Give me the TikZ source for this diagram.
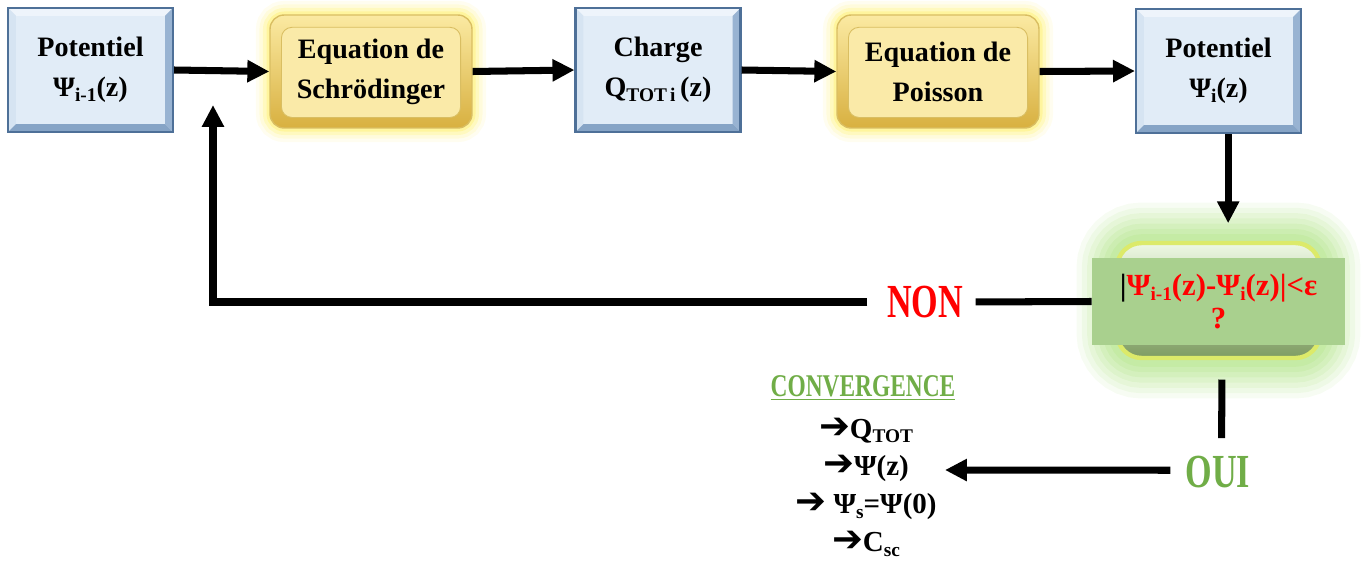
\documentclass[tikz,border=0pt]{standalone}
\usepackage{fontspec}
\setmainfont{Liberation Serif}
\newfontfamily\arrfont{DejaVu Sans}
\usetikzlibrary{arrows.meta,calc}
\definecolor{bvedge}{HTML}{4E7098}
\definecolor{bvtop}{HTML}{EEF4FB}
\definecolor{bvleft}{HTML}{D6E4F2}
\definecolor{bvright}{HTML}{98B3D2}
\definecolor{bvbot}{HTML}{86A4C6}
\definecolor{bvin}{HTML}{E1ECF7}
\definecolor{ytop}{HTML}{FBEAA2}
\definecolor{ybot}{HTML}{D8B040}
\definecolor{yin}{HTML}{FAEAA8}
\definecolor{yline}{HTML}{D9BE62}
\definecolor{yglow}{HTML}{FFF06A}
\definecolor{gglow}{HTML}{BDE89A}
\definecolor{grim}{HTML}{DCEA6A}
\definecolor{gtop}{HTML}{EEF8E4}
\definecolor{gbot}{HTML}{7E9C62}
\definecolor{gflat}{HTML}{A9D08E}
\definecolor{txtgreen}{HTML}{70AD47}
\definecolor{txtred}{HTML}{FF0000}
\newcommand\lowtext[1]{\raisebox{-0.35ex}{\fontsize{11}{11}\selectfont #1}}
\newcommand\bigarr{{\arrfont\bfseries\fontsize{21}{21}\selectfont ➔}}
\tikzset{
  bluebox/.style={draw=bvedge, line width=1.2pt, fill=bvin,
    minimum width=3.3cm, minimum height=2.48cm, align=center, inner sep=0pt,
    path picture={
      \fill[bvtop] (path picture bounding box.north west) -- (path picture bounding box.north east)
        -- ([xshift=-4.5pt,yshift=-4.5pt]path picture bounding box.north east)
        -- ([xshift=4.5pt,yshift=-4.5pt]path picture bounding box.north west) -- cycle;
      \fill[bvleft] (path picture bounding box.north west) -- (path picture bounding box.south west)
        -- ([xshift=4.5pt,yshift=4.5pt]path picture bounding box.south west)
        -- ([xshift=4.5pt,yshift=-4.5pt]path picture bounding box.north west) -- cycle;
      \fill[bvright] (path picture bounding box.north east) -- (path picture bounding box.south east)
        -- ([xshift=-4.5pt,yshift=4.5pt]path picture bounding box.south east)
        -- ([xshift=-4.5pt,yshift=-4.5pt]path picture bounding box.north east) -- cycle;
      \fill[bvbot] (path picture bounding box.south west) -- (path picture bounding box.south east)
        -- ([xshift=-4.5pt,yshift=4.5pt]path picture bounding box.south east)
        -- ([xshift=4.5pt,yshift=4.5pt]path picture bounding box.south west) -- cycle;
    }},
  yelbox/.style={draw=yline, line width=0.8pt, rounded corners=8pt,
    top color=ytop, bottom color=ybot,
    minimum width=4.04cm, minimum height=2.26cm, align=center, inner sep=0pt,
    preaction={draw=yglow, line width=16pt, opacity=0.10},
    preaction={draw=yglow, line width=12pt, opacity=0.15},
    preaction={draw=yglow, line width=8pt, opacity=0.25},
    preaction={draw=yglow, line width=4pt, opacity=0.4},
    path picture={
      \draw[fill=yin, draw=yline, line width=0.5pt, rounded corners=6pt]
        ([xshift=6.5pt,yshift=-7pt]path picture bounding box.north west)
        rectangle ([xshift=-6.5pt,yshift=6pt]path picture bounding box.south east);
    }},
  greenround/.style={draw=grim, line width=2.5pt, rounded corners=14pt,
    top color=gtop, bottom color=gbot,
    minimum width=4.06cm, minimum height=2.3cm, inner sep=0pt,
    preaction={draw=gglow, line width=46pt, opacity=0.12},
    preaction={draw=gglow, line width=40pt, opacity=0.15},
    preaction={draw=gglow, line width=34pt, opacity=0.18},
    preaction={draw=gglow, line width=28pt, opacity=0.22},
    preaction={draw=gglow, line width=22pt, opacity=0.28},
    preaction={draw=gglow, line width=16pt, opacity=0.35},
    preaction={draw=gglow, line width=10pt, opacity=0.5}},
  flatgreen/.style={fill=gflat, minimum width=5.06cm, minimum height=1.74cm,
    align=center, inner sep=0pt, text=txtred},
  line/.style={line width=4pt},
  arrow/.style={line width=4pt, -{Triangle[length=12.5pt,width=12pt]}},
}
\begin{document}
\begin{tikzpicture}[x=0.02cm,y=-0.02cm, font=\fontsize{16}{22.8}\selectfont\bfseries]
\useasboundingbox (0,0) rectangle (1362,561);

% top row
\node[bluebox] (b1) at (90.5,70) {Potentiel\\Ψ\lowtext{i-1}(z)};
\node[yelbox]  (b2) at (371,71.5) {Equation de\\Schrödinger};
\node[bluebox] (b3) at (658,70) {Charge\\Q\lowtext{TOT\,i}\,(z)};
\node[yelbox]  (b4) at (938,71.5) {Equation de\\Poisson};
\node[bluebox] (b5) at (1218.5,71) {Potentiel\\Ψ\lowtext{i}(z)};

% decision
\node[greenround] (decbg) at (1218.5,300.5) {};
\node[flatgreen, font=\fontsize{17.5}{19}\selectfont\bfseries] (dec) at (1218.5,301.5)
  {{\color{black}|}Ψ\lowtext{i-1}(z)-Ψ\lowtext{i}(z)|<ε\\?};

% labels
\node[inner sep=0pt, text=txtred] (non) at (925,302)
  {\scalebox{0.72}[1]{\fontsize{27}{30}\selectfont NON}};
\node[inner sep=0pt, text=txtgreen] (oui) at (1218,472)
  {\scalebox{0.72}[1]{\fontsize{27}{30}\selectfont OUI}};
\node[inner sep=0pt, text=txtgreen] (convt) at (863,388)
  {\scalebox{0.74}[1]{\fontsize{18}{20}\selectfont\underline{CONVERGENCE}}};
\node[inner sep=0pt, align=center, font=\fontsize{16.5}{21.5}\selectfont\bfseries] (conv) at (866,487)
  {\bigarr Q\lowtext{TOT}\\
   \bigarr Ψ(z)\\
   \bigarr\ Ψ\lowtext{s}=Ψ(0)\\
   \bigarr C\lowtext{sc}};

\coordinate (up) at (213,105);
\coordinate (convtip) at (945,470);

% connectors
\draw[arrow] (b1.east) -- (b2.west);
\draw[arrow] (b2.east) -- (b3.west);
\draw[arrow] (b3.east) -- (b4.west);
\draw[arrow] (b4.east) -- (b5.west);
\draw[arrow, shorten >=10pt] ([xshift=5.5pt]b5.south) -- ([xshift=5.5pt]decbg.north);
\draw[line, shorten >=7pt] (dec.west) -- (non.east);
\draw[arrow] ([xshift=-11pt]non.west) -| (up);
\draw[line, shorten <=11pt, shorten >=10pt] ([xshift=2pt]decbg.south) -- ([xshift=2pt]oui.north);
\draw[arrow] ([xshift=-8.5pt,yshift=1pt]oui.west) -- (convtip);
\end{tikzpicture}
\end{document}
